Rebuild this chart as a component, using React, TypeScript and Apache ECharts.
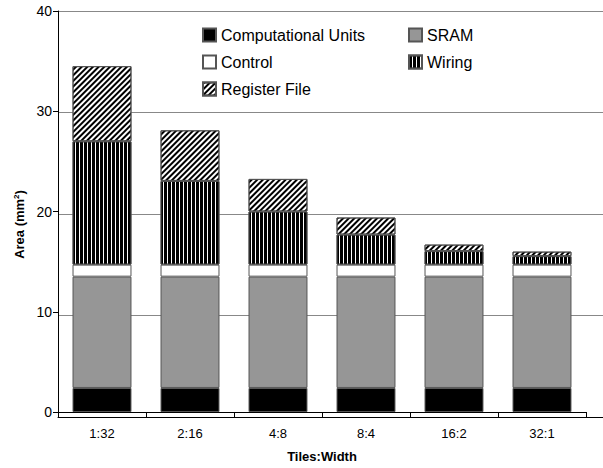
import React, { useEffect, useRef } from "react";
import * as echarts from "echarts";

const categories = ["1:32", "2:16", "4:8", "8:4", "16:2", "32:1"];
const computationalUnits = [2.4, 2.4, 2.4, 2.4, 2.4, 2.4];
const sram = [11.1, 11.1, 11.1, 11.1, 11.1, 11.1];
const control = [1.2, 1.2, 1.2, 1.2, 1.2, 1.2];
const wiring = [12.3, 8.35, 5.3, 3.0, 1.35, 0.85];
const registerFile = [7.5, 5.05, 3.25, 1.7, 0.65, 0.45];
const yTicks = { min: 0, max: 40, interval: 10 };

const FONT = "'Liberation Sans', Arial, Helvetica, sans-serif";

export default function App() {
  const ref = useRef<HTMLDivElement>(null);
  useEffect(() => {
    if (!ref.current) return;
    const chart = echarts.init(ref.current, null, { renderer: "svg" });
    const border = { borderColor: "#555", borderWidth: 1 };
    const mk = (name: string, data: number[], itemStyle: any) => ({
      name,
      type: "bar",
      stack: "area",
      data,
      barCategoryGap: "33%",
      xAxisIndex: 0,
      yAxisIndex: 0,
      itemStyle: { ...border, ...itemStyle },
      emphasis: { disabled: true },
    });
    const legendCommon = {
      orient: "vertical",
      top: 22,
      icon: "rect",
      itemWidth: 13,
      itemHeight: 13,
      itemGap: 11,
      selectedMode: false,
      textStyle: { fontSize: 16, lineHeight: 16, color: "#000", fontFamily: FONT },
    };
    chart.setOption({
      animation: false,
      textStyle: { fontFamily: FONT },
      grid: [
        { left: 58, right: 17, top: 11, bottom: 51 },
        { left: 58, right: 0, top: 11, bottom: 51 },
      ],
      legend: [
        { ...legendCommon, data: ["Computational Units", "Control", "Register File"], left: 197 },
        { ...legendCommon, data: ["SRAM", "Wiring"], left: 403 },
      ],
      xAxis: [
        {
          type: "category",
          gridIndex: 0,
          data: categories,
          boundaryGap: true,
          name: "Tiles:Width",
          nameLocation: "middle",
          nameGap: 38,
          nameTextStyle: { fontSize: 13, fontWeight: "bold", color: "#000", fontFamily: FONT },
          axisLine: { show: true, lineStyle: { color: "#000", width: 1 } },
          axisTick: { show: true, length: 5, lineStyle: { color: "#000" } },
          axisLabel: { fontSize: 13, color: "#000", margin: 15, fontFamily: FONT },
          splitLine: { show: false },
        },
        {
          type: "value",
          gridIndex: 1,
          min: 0,
          max: 1,
          axisLine: { show: true, lineStyle: { color: "#000", width: 1 } },
          axisTick: { show: false },
          axisLabel: { show: false },
          splitLine: { show: false },
        },
      ],
      yAxis: [
        {
          type: "value",
          gridIndex: 0,
          ...yTicks,
          name: "Area (mm{sup|2})",
          nameLocation: "middle",
          nameGap: 31,
          nameTextStyle: {
            fontSize: 13,
            fontWeight: "bold",
            color: "#000",
            fontFamily: FONT,
            padding: [0, 26, 0, 0],
            rich: {
              sup: { fontSize: 8, fontWeight: "bold", verticalAlign: "top", color: "#000", padding: [0, 0, 6, 0] },
            },
          },
          axisLine: { show: true, lineStyle: { color: "#000", width: 1 } },
          axisTick: { show: true, length: 5, lineStyle: { color: "#000" } },
          axisLabel: { fontSize: 14, color: "#000", margin: 6, fontFamily: FONT },
          splitLine: { show: false },
        },
        {
          type: "value",
          gridIndex: 1,
          ...yTicks,
          axisLine: { show: false },
          axisTick: { show: false },
          axisLabel: { show: false },
          splitLine: { show: true, lineStyle: { color: "#888", width: 1 } },
        },
      ],
      series: [
        mk("Computational Units", computationalUnits, { color: "#000" }),
        mk("SRAM", sram, { color: "#969696" }),
        mk("Control", control, { color: "#fff" }),
        mk("Wiring", wiring, {
          color: "#fff",
          decal: {
            symbol: "rect",
            symbolSize: 1,
            color: "#000",
            dashArrayX: [3, 1],
            dashArrayY: [1, 0],
            rotation: 0,
          },
        }),
        mk("Register File", registerFile, {
          color: "#fff",
          decal: {
            symbol: "rect",
            symbolSize: 1,
            color: "#000",
            dashArrayX: [1, 0],
            dashArrayY: [2, 2],
            rotation: -Math.PI / 4,
          },
        }),
      ],
    });
    return () => chart.dispose();
  }, []);
  return <div ref={ref} style={{ width: 603, height: 468, position: "absolute", left: 0, top: 0 }} />;
}
